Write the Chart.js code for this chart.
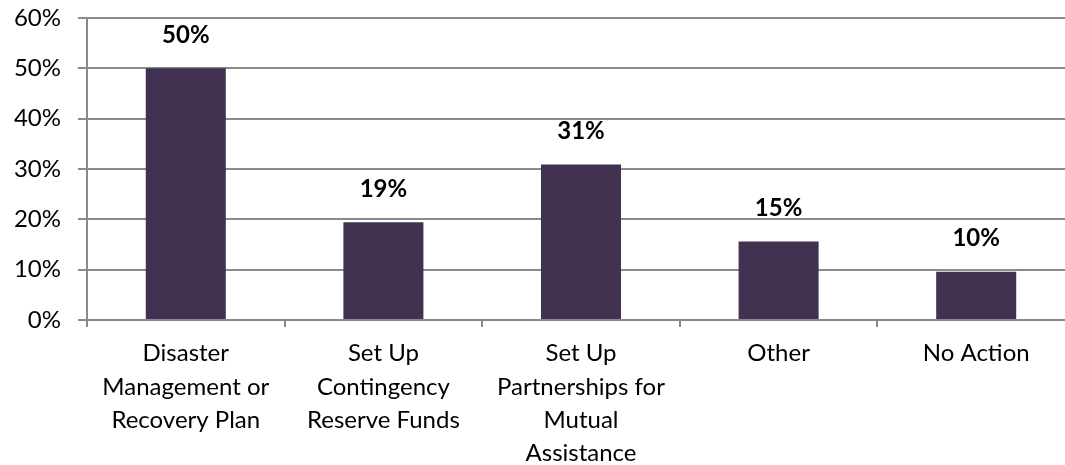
<!DOCTYPE html>
<html>
<head>
<meta charset="utf-8">
<script src="https://cdn.jsdelivr.net/npm/chart.js@4"></script>
<style>
  html, body { margin: 0; padding: 0; background: #fff; overflow: hidden; }
  #wrap { position: absolute; left: 0; top: 0; width: 1080px; height: 465px; }
</style>
</head>
<body>
<div id="wrap"><canvas id="chart"></canvas></div>
<script>
const categories = [
    ['Disaster', 'Management or', 'Recovery Plan'],
    ['Set Up', 'Contingency', 'Reserve Funds'],
    ['Set Up', 'Partnerships for', 'Mutual', 'Assistance'],
    'Other',
    'No Action'
];
const values = [50, 19.4, 30.9, 15.6, 9.6];
const valueLabels = ['50%', '19%', '31%', '15%', '10%'];
const yTicks = [0, 10, 20, 30, 40, 50, 60];

const FONT = 'Lato, "Open Sans", sans-serif';
const gridColor = '#8a8a8a';

// etiquetas encima de cada barra
const barLabels = {
    id: 'barLabels',
    afterDatasetsDraw(chart) {
        const ctx = chart.ctx;
        const meta = chart.getDatasetMeta(0);
        ctx.save();
        ctx.font = 'bold 24px ' + FONT;
        ctx.fillStyle = '#000';
        ctx.textAlign = 'center';
        ctx.textBaseline = 'middle';
        meta.data.forEach((bar, i) => {
            ctx.fillText(valueLabels[i], bar.x, bar.y - 33);
        });
        ctx.restore();
    }
};

const ctx = document.getElementById('chart');
new Chart(ctx, {
    type: 'bar',
    data: {
        labels: categories,
        datasets: [{
            data: values,
            backgroundColor: '#413252',
            barPercentage: 0.405,
            categoryPercentage: 1
        }]
    },
    options: {
        responsive: true,
        maintainAspectRatio: false,
        animation: false,
        layout: { padding: { top: 18, right: 5, left: 0, bottom: 0 } },
        plugins: { legend: { display: false }, tooltip: { enabled: false } },
        scales: {
            x: {
                grid: { drawOnChartArea: false, drawTicks: true, tickLength: 7, color: gridColor, lineWidth: 2 },
                border: { color: gridColor, width: 2 },
                ticks: {
                    color: '#000',
                    font: { family: FONT, size: 24, lineHeight: 1.39 },
                    padding: 10,
                    maxRotation: 0,
                    autoSkip: false
                },
                afterFit(scale) {
                    scale.height = 145;
                    scale.paddingLeft = 0;
                    scale.paddingRight = 0;
                }
            },
            y: {
                min: 0,
                max: 60,
                afterBuildTicks(scale) { scale.ticks = yTicks.map(v => ({ value: v })); },
                grid: { color: gridColor, lineWidth: 2, tickLength: 9 },
                border: { color: gridColor, width: 2 },
                ticks: {
                    color: '#000',
                    font: { family: FONT, size: 24 },
                    padding: 17,
                    callback: v => v + '%'
                },
                afterFit(scale) {
                    scale.width = 87;
                    scale.paddingTop = 0;
                    scale.paddingBottom = 0;
                }
            }
        }
    },
    plugins: [barLabels]
});
</script>
</body>
</html>
